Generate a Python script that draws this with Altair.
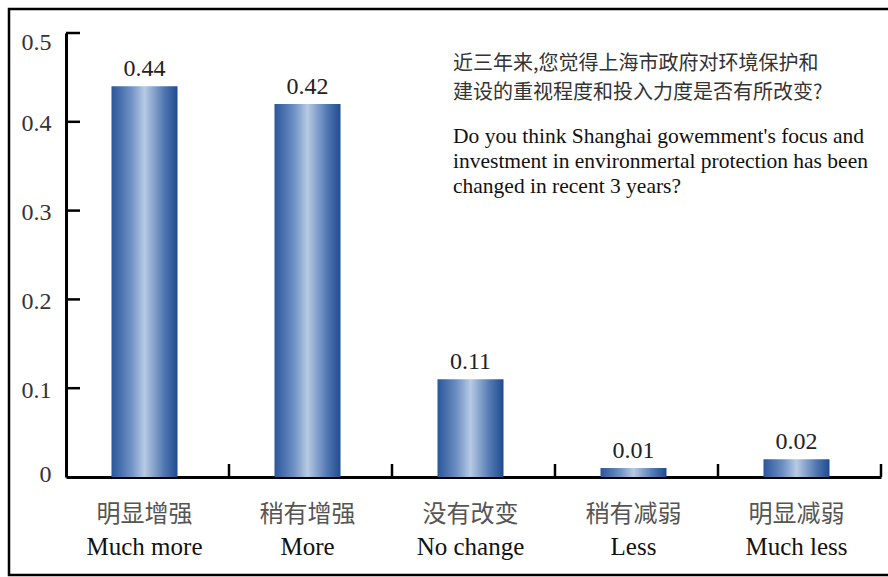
import altair as alt
import pandas as pd

# Survey answers: share of respondents per answer
labels_cn = ["明显增强", "稍有增强", "没有改变", "稍有减弱", "明显减弱"]
labels_en = ["Much more", "More", "No change", "Less", "Much less"]
shares = [0.44, 0.42, 0.11, 0.01, 0.02]

# Axis ticks
y_values = [0, 0.1, 0.2, 0.3, 0.4, 0.5]
y_inner_ticks = [0.1, 0.2, 0.3, 0.4, 0.5]

# Question printed in the upper right, one entry per line
question_cn = [
    "近三年来,您觉得上海市政府对环境保护和",
    "建设的重视程度和投入力度是否有所改变?",
]
question_en = [
    "Do you think Shanghai gowemment's focus and",
    "investment in environmertal protection has been",
    "changed in recent 3 years?",
]

W, H = 815, 444
SERIF = "Liberation Serif"
CJK = "Noto Sans CJK SC"

df = pd.DataFrame({"cn": labels_cn, "en": labels_en, "share": shares})

x_enc = alt.X(
    "cn:N",
    sort=labels_cn,
    scale=alt.Scale(paddingInner=0, paddingOuter=0),
    axis=alt.Axis(
        labels=False, ticks=False, title=None, grid=False,
        domainColor="black", domainWidth=3,
    ),
)
y_enc = alt.Y(
    "share:Q",
    scale=alt.Scale(domain=[0, 0.5], nice=False, zero=True),
    axis=alt.Axis(
        values=y_values,
        labelExpr="datum.value == 0 ? '0' : format(datum.value, '.1f')",
        labelOffset={"expr": "datum.value == 0.5 ? 9 : (datum.value == 0 ? -3 : 2)"},
        ticks=False, grid=False, title=None,
        domainColor="black", domainWidth=3,
        labelFont=SERIF, labelFontSize=24, labelColor="#333",
        labelPadding=15,
    ),
)

bar_fill = alt.Gradient(
    gradient="linear",
    x1=0, x2=1, y1=0, y2=0,
    stops=[
        alt.GradientStop(color="#2a569b", offset=0),
        alt.GradientStop(color="#6f91c4", offset=0.3),
        alt.GradientStop(color="#b7cae4", offset=0.5),
        alt.GradientStop(color="#5077b2", offset=0.8),
        alt.GradientStop(color="#1f4b8f", offset=1),
    ],
)

bars = alt.Chart(df).mark_bar(
    width=alt.RelativeBandSize(band=0.405), fill=bar_fill, xOffset=-3
).encode(x=x_enc, y=y_enc)

bar_values = alt.Chart(df).mark_text(
    baseline="bottom", dy=-5, xOffset=-3,
    font=SERIF, fontSize=24, color="#222",
).encode(x=x_enc, y=y_enc, text=alt.Text("share:Q", format=".2f"))

label_cn = alt.Chart(df).mark_text(
    baseline="middle", xOffset=-3, font=CJK, fontSize=24, color="#555",
).encode(x=x_enc, y=alt.value(H + 38), text="cn:N")

label_en = alt.Chart(df).mark_text(
    baseline="middle", xOffset=-3, font=SERIF, fontSize=25, color="#111",
).encode(x=x_enc, y=alt.value(H + 70), text="en:N")

# Inward-pointing category separators on the x axis
x_ticks = alt.Chart(df).mark_rule(color="black", strokeWidth=2.5).encode(
    x=alt.X("cn:N", sort=labels_cn, bandPosition=1),
    y=alt.value(H), y2=alt.value(H - 13),
)

# Inward-pointing value ticks on the y axis
y_ticks = alt.Chart(pd.DataFrame({"share": y_inner_ticks})).mark_rule(
    color="black", strokeWidth=2.5
).encode(y=y_enc, x=alt.value(0), x2=alt.value(14))

# Question text, one text mark per line
one = pd.DataFrame({"k": [0]})
question_layers = []
for i, line in enumerate(question_cn):
    question_layers.append(
        alt.Chart(one).mark_text(
            align="left", baseline="middle", font=CJK, fontSize=20,
            color="#333", text=line,
        ).encode(x=alt.value(387), y=alt.value(30.5 + 29 * i))
    )
for i, line in enumerate(question_en):
    question_layers.append(
        alt.Chart(one).mark_text(
            align="left", baseline="middle", font=SERIF, fontSize=21.5,
            color="#111", text=line,
        ).encode(x=alt.value(387), y=alt.value(104 + 25 * i))
    )

# Outer frame around the whole figure
frame = alt.Chart(one).mark_rect(
    fillOpacity=0, stroke="black", strokeWidth=2.5
).encode(
    x=alt.value(-57), x2=alt.value(830), y=alt.value(-24), y2=alt.value(542)
)

chart = (
    alt.layer(bars, bar_values, x_ticks, y_ticks, label_cn, label_en,
              *question_layers, frame)
    .properties(
        width=W, height=H,
        autosize=alt.AutoSizeParams(type="none"),
        padding={"left": 66, "top": 33, "right": 7, "bottom": 100},
        background="white",
    )
    .configure_view(strokeWidth=0)
)

chart.save("out.html", embed_options={"renderer": "svg", "actions": False})
